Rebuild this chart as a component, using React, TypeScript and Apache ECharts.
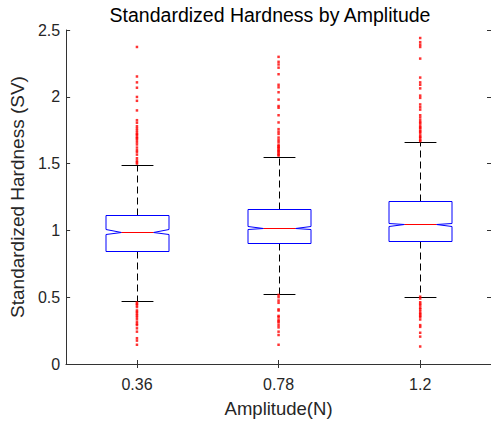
import React, { useEffect, useRef } from "react";
import * as echarts from "echarts";

const categories = ["0.36", "0.78", "1.2"];
const lowerWhisker = [0.468, 0.524, 0.504];
const q1 = [0.848, 0.904, 0.919];
const notchLow = [0.973, 1.007, 1.03];
const median = [0.99, 1.02, 1.047];
const notchHigh = [1.01, 1.032, 1.059];
const q3 = [1.113, 1.162, 1.219];
const upperWhisker = [1.489, 1.548, 1.658];

const outliers0 = [
  2.373, 2.152, 2.108, 2.068, 1.999, 1.97, 1.898, 1.825, 1.806, 1.764, 1.749, 1.734, 1.714, 1.697,
  1.677, 1.643, 1.587, 1.567, 1.523, 1.5, 1.51, 1.54, 1.6, 1.62, 1.66, 1.69, 1.72, 1.78,
  0.451, 0.426, 0.401, 0.377, 0.364, 0.352, 0.335, 0.315, 0.291, 0.267, 0.242, 0.193, 0.175, 0.144,
  0.46, 0.44, 0.39, 0.3,
];
const outliers1 = [
  2.299, 2.262, 2.242, 2.218, 2.169, 2.09, 2.071, 2.034, 1.979, 1.931, 1.918, 1.862, 1.808, 1.758,
  1.739, 1.722, 1.695, 1.677, 1.661, 1.641, 1.624, 1.604, 1.587, 1.567, 1.56, 1.575, 1.595, 1.615, 1.63,
  0.517, 0.475, 0.458, 0.409, 0.352, 0.333, 0.311, 0.291, 0.274, 0.242, 0.217, 0.144, 0.5, 0.4, 0.36, 0.32,
];
const outliers2 = [
  2.44, 2.409, 2.39, 2.373, 2.286, 2.144, 2.108, 2.09, 2.063, 2.009, 1.992, 1.943, 1.923, 1.904,
  1.862, 1.845, 1.825, 1.8, 1.783, 1.764, 1.747, 1.727, 1.71, 1.69, 1.675, 1.668, 1.7, 1.74, 1.77, 1.81,
  0.504, 0.462, 0.438, 0.421, 0.396, 0.372, 0.352, 0.333, 0.291, 0.278, 0.234, 0.205, 0.131, 0.49,
  0.45, 0.41, 0.38, 0.36,
];
const outlierLists = [outliers0, outliers1, outliers2];

const yTicks = { min: 0, max: 2.5, interval: 0.5 };

const AXIS = "#333333";
const TEXT = "#262626";
const FONT = "'Liberation Sans', Arial, Helvetica, sans-serif";

export default function App() {
  const ref = useRef<HTMLDivElement>(null);
  useEffect(() => {
    if (!ref.current) return;
    const chart = echarts.init(ref.current, null, { renderer: "svg" });

    const boxData = categories.map((_, i) => [
      i,
      lowerWhisker[i],
      q1[i],
      notchLow[i],
      median[i],
      notchHigh[i],
      q3[i],
      upperWhisker[i],
    ]);
    const outlierData: number[][] = [];
    outlierLists.forEach((list, i) => list.forEach((v) => outlierData.push([i, v])));

    const renderItem = (params: any, api: any) => {
      const x = api.value(0);
      const band = api.size([1, 0])[0];
      const half = band * 0.225;
      const inner = band * 0.1125;
      const p = (v: number) => api.coord([x, v]);
      const cx = Math.round(p(api.value(4))[0]) + 0.5;
      const yy = (k: number) => Math.round(p(api.value(k))[1]) + 0.5;
      const ylw = yy(1), yq1 = yy(2), ynl = yy(3), ymed = yy(4), ynh = yy(5), yq3 = yy(6), yuw = yy(7);
      const L = Math.round(cx - half);
      const R = Math.round(cx + half);
      return {
        type: "group",
        children: [
          {
            type: "line",
            shape: { x1: cx, y1: yq3, x2: cx, y2: yuw },
            style: { stroke: "#000", lineWidth: 1, lineDash: [7, 4] },
          },
          {
            type: "line",
            shape: { x1: cx, y1: yq1, x2: cx, y2: ylw },
            style: { stroke: "#000", lineWidth: 1, lineDash: [7, 4] },
          },
          {
            type: "line",
            shape: { x1: cx - inner, y1: yuw, x2: cx + inner, y2: yuw },
            style: { stroke: "#000", lineWidth: 1 },
          },
          {
            type: "line",
            shape: { x1: cx - inner, y1: ylw, x2: cx + inner, y2: ylw },
            style: { stroke: "#000", lineWidth: 1 },
          },
          {
            type: "polygon",
            shape: {
              points: [
                [L, yq3],
                [R, yq3],
                [R, ynh],
                [cx + inner, ymed],
                [R, ynl],
                [R, yq1],
                [L, yq1],
                [L, ynl],
                [cx - inner, ymed],
                [L, ynh],
              ],
            },
            style: { stroke: "#0000ff", fill: "#ffffff", lineWidth: 1 },
          },
          {
            type: "line",
            shape: { x1: cx - inner, y1: ymed, x2: cx + inner, y2: ymed },
            style: { stroke: "#ff0000", lineWidth: 1 },
          },
        ],
      };
    };

    const catAxisCommon = {
      type: "category",
      data: categories,
      boundaryGap: true,
      axisLine: { show: true, lineStyle: { color: AXIS, width: 1 } },
      axisTick: { show: true, inside: true, alignWithLabel: true, length: 4, lineStyle: { color: AXIS } },
      splitLine: { show: false },
    };
    const valAxisCommon = {
      type: "value",
      min: yTicks.min,
      max: yTicks.max,
      interval: yTicks.interval,
      axisLine: { show: true, lineStyle: { color: AXIS, width: 1 } },
      axisTick: { show: true, inside: true, length: 4, lineStyle: { color: AXIS } },
      splitLine: { show: false },
    };

    chart.setOption({
      animation: false,
      backgroundColor: "#ffffff",
      title: {
        text: "Standardized Hardness by Amplitude",
        left: 270,
        textAlign: "center",
        top: 5,
        padding: 0,
        textStyle: { fontFamily: FONT, fontSize: 19.5, fontWeight: "normal", color: "#000" },
      },
      grid: { left: 58, right: -2, top: 30, bottom: 53, containLabel: false },
      xAxis: [
        {
          ...catAxisCommon,
          position: "bottom",
          name: "Amplitude(N)",
          nameLocation: "middle",
          nameGap: 35,
          nameTextStyle: { fontFamily: FONT, fontSize: 18.5, color: TEXT },
          axisLabel: { fontFamily: FONT, fontSize: 16, color: TEXT, margin: 12 },
        },
        {
          ...catAxisCommon,
          position: "top",
          axisLabel: { show: false },
        },
      ],
      yAxis: [
        {
          ...valAxisCommon,
          position: "left",
          name: "Standardized Hardness (SV)",
          nameLocation: "middle",
          nameGap: 35,
          nameTextStyle: { fontFamily: FONT, fontSize: 19, color: TEXT },
          axisLabel: { fontFamily: FONT, fontSize: 16, color: TEXT, margin: 6 },
        },
        {
          ...valAxisCommon,
          position: "right",
          axisLabel: { show: false },
        },
      ],
      series: [
        {
          type: "custom",
          xAxisIndex: 0,
          yAxisIndex: 0,
          renderItem,
          encode: { x: 0, y: [1, 2, 3, 4, 5, 6, 7] },
          data: boxData,
          z: 2,
        },
        {
          type: "scatter",
          xAxisIndex: 0,
          yAxisIndex: 0,
          symbol: "rect",
          symbolSize: 2.5,
          itemStyle: { color: "#ff0000" },
          data: outlierData,
          z: 3,
        },
      ],
    });
    return () => chart.dispose();
  }, []);
  return (
    <div
      ref={ref}
      style={{ position: "fixed", left: 0, top: 0, width: 491, height: 423, background: "#fff" }}
    />
  );
}
